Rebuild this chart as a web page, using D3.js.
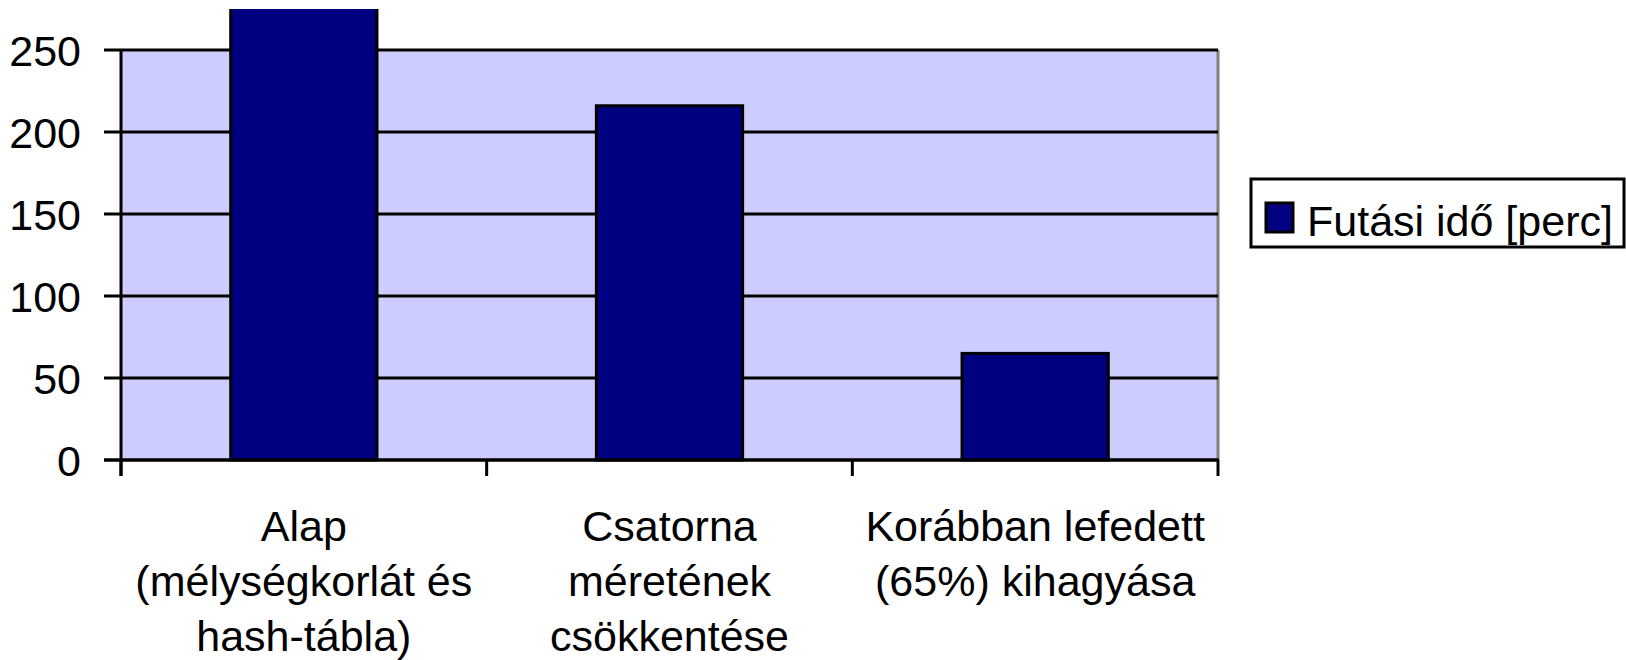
<!DOCTYPE html>
<html>
<head>
<meta charset="utf-8">
<script src="https://cdn.jsdelivr.net/npm/d3@7"></script>
<style>
  body { margin: 0; background: #fff; }
  text { font-family: "Liberation Sans", Arial, sans-serif; fill: #000; }
</style>
</head>
<body>
<div id="chart"></div>
<script>
const categories = ["Alap", "Csatorna", "Korábban"];
const categoryLines = [
    ["Alap", "(mélységkorlát és", "hash-tábla)"],
    ["Csatorna", "méretének", "csökkentése"],
    ["Korábban lefedett", "(65%) kihagyása"]
];
const runTimes = [300, 216, 65];
const yTicks = [0, 50, 100, 150, 200, 250];
const seriesName = "Futási idő [perc]";

const width = 1626;
const height = 660;
const margin = { top: 50, right: 408, bottom: 200, left: 121 };

const svg = d3.select("#chart").append("svg")
    .attr("width", width)
    .attr("height", height);

const xScale = d3.scaleBand()
    .domain(categories)
    .range([margin.left, width - margin.right])
    .paddingInner(0.6)
    .paddingOuter(0.3);

const yScale = d3.scaleLinear()
    .domain([0, 250])
    .range([height - margin.bottom, margin.top]);

const plotBottom = yScale(0);
const plotTop = yScale(250);
const plotLeft = margin.left;
const plotRight = width - margin.right;

// plot background
svg.append("rect")
    .attr("x", plotLeft)
    .attr("y", plotTop)
    .attr("width", plotRight - plotLeft)
    .attr("height", plotBottom - plotTop)
    .attr("fill", "#ccccff");

// right edge of plot area
svg.append("line")
    .attr("x1", plotRight).attr("x2", plotRight)
    .attr("y1", plotTop).attr("y2", plotBottom)
    .attr("stroke", "#808080")
    .attr("stroke-width", 3);

// gridlines + y ticks
svg.append("g")
    .selectAll("line")
    .data(yTicks)
    .join("line")
    .attr("x1", plotLeft - 17)
    .attr("x2", plotRight)
    .attr("y1", (d) => yScale(d))
    .attr("y2", (d) => yScale(d))
    .attr("stroke", "#000")
    .attr("stroke-width", 3);

svg.append("g")
    .selectAll("text")
    .data(yTicks)
    .join("text")
    .attr("x", 81)
    .attr("y", (d) => yScale(d) + 16)
    .attr("text-anchor", "end")
    .attr("font-size", 43)
    .text((d) => d);

// bars, clipped at the top of the chart area
svg.append("clipPath")
    .attr("id", "chartClip")
    .append("rect")
    .attr("x", 0).attr("y", 9)
    .attr("width", width).attr("height", height);

svg.append("g")
    .attr("clip-path", "url(#chartClip)")
    .selectAll("rect")
    .data(runTimes)
    .join("rect")
    .attr("x", (d, i) => xScale(categories[i]))
    .attr("y", (d) => yScale(d))
    .attr("width", xScale.bandwidth())
    .attr("height", (d) => plotBottom - yScale(d))
    .attr("fill", "#000080")
    .attr("stroke", "#000")
    .attr("stroke-width", 3);

// axes lines
svg.append("line")
    .attr("x1", plotLeft).attr("x2", plotLeft)
    .attr("y1", plotTop).attr("y2", plotBottom + 16)
    .attr("stroke", "#000")
    .attr("stroke-width", 3);

svg.append("line")
    .attr("x1", plotLeft - 17).attr("x2", plotRight + 1)
    .attr("y1", plotBottom).attr("y2", plotBottom)
    .attr("stroke", "#000")
    .attr("stroke-width", 3);

// category boundary ticks
const boundaries = d3.range(categories.length + 1).map((i) => plotLeft + i * xScale.step());
svg.append("g")
    .selectAll("line")
    .data(boundaries)
    .join("line")
    .attr("x1", (d) => d).attr("x2", (d) => d)
    .attr("y1", plotBottom).attr("y2", plotBottom + 16)
    .attr("stroke", "#000")
    .attr("stroke-width", 3);

// category labels
const labels = svg.append("g")
    .selectAll("text")
    .data(categoryLines)
    .join("text")
    .attr("text-anchor", "middle")
    .attr("font-size", 43)
    .attr("x", (d, i) => xScale(categories[i]) + xScale.bandwidth() / 2);

labels.selectAll("tspan")
    .data((d) => d)
    .join("tspan")
    .attr("x", function () { return d3.select(this.parentNode).attr("x"); })
    .attr("y", (d, i) => 541 + i * 55)
    .text((d) => d);

// legend
const legend = svg.append("g");
legend.append("rect")
    .attr("x", 1251).attr("y", 179)
    .attr("width", 373).attr("height", 68)
    .attr("fill", "#fff")
    .attr("stroke", "#000")
    .attr("stroke-width", 3);
legend.append("rect")
    .attr("x", 1266).attr("y", 203)
    .attr("width", 27).attr("height", 29)
    .attr("fill", "#000080")
    .attr("stroke", "#000")
    .attr("stroke-width", 3);
legend.append("text")
    .attr("x", 1307).attr("y", 236)
    .attr("font-size", 43)
    .text(seriesName);
</script>
</body>
</html>
